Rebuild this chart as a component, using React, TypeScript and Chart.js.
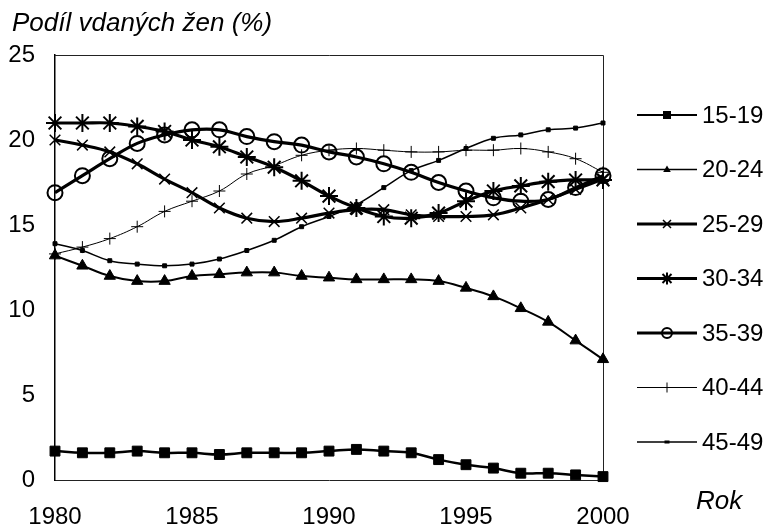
import React, { useEffect, useRef } from "react";
import { Chart, registerables } from "chart.js";

Chart.register(...registerables);

// ---- data ----
const years = [
  "1980", "1981", "1982", "1983", "1984", "1985", "1986", "1987", "1988", "1989", "1990",
  "1991", "1992", "1993", "1994", "1995", "1996", "1997", "1998", "1999", "2000",
];
const xTickYears = ["1980", "1985", "1990", "1995", "2000"];
const yMin = 0;
const yMax = 25;
const yStep = 5;

const seriesNames = ["15-19", "20-24", "25-29", "30-34", "35-39", "40-44", "45-49"];

const age15_19 = [1.7, 1.6, 1.6, 1.7, 1.6, 1.6, 1.5, 1.6, 1.6, 1.6, 1.7, 1.8, 1.7, 1.6, 1.2, 0.9, 0.7, 0.4, 0.4, 0.3, 0.2];
const age20_24 = [13.2, 12.6, 12.0, 11.7, 11.7, 12.0, 12.1, 12.2, 12.2, 12.0, 11.9, 11.8, 11.8, 11.8, 11.7, 11.3, 10.8, 10.1, 9.3, 8.2, 7.1];
const age25_29 = [20.0, 19.7, 19.3, 18.6, 17.7, 16.9, 16.0, 15.4, 15.2, 15.4, 15.7, 15.9, 15.9, 15.6, 15.5, 15.5, 15.6, 16.0, 16.5, 17.1, 17.7];
const age30_34 = [21.0, 21.0, 21.0, 20.8, 20.5, 20.0, 19.6, 19.0, 18.4, 17.6, 16.7, 16.0, 15.5, 15.4, 15.7, 16.4, 17.0, 17.3, 17.55, 17.65, 17.65];
const age35_39 = [16.9, 17.9, 18.9, 19.8, 20.3, 20.6, 20.6, 20.2, 19.9, 19.7, 19.3, 19.0, 18.6, 18.1, 17.5, 17.0, 16.6, 16.4, 16.5, 17.2, 17.9];
const age40_44 = [13.3, 13.7, 14.2, 14.9, 15.8, 16.4, 17.0, 18.0, 18.5, 19.1, 19.4, 19.5, 19.4, 19.3, 19.3, 19.4, 19.4, 19.5, 19.3, 18.9, 18.1];
const age45_49 = [13.9, 13.5, 12.9, 12.7, 12.6, 12.7, 13.0, 13.5, 14.1, 14.9, 15.5, 16.2, 17.2, 18.2, 18.8, 19.5, 20.1, 20.3, 20.6, 20.7, 21.0];

const seriesValues = [age15_19, age20_24, age25_29, age30_34, age35_39, age40_44, age45_49];

const yAxisTitle = "Podíl vdaných žen (%)";
const xAxisTitle = "Rok";

// ---- styles ----
const FONT = '"Liberation Sans", Arial, Helvetica, sans-serif';

type SStyle = {
  point: string;
  radius: number;
  line: number;
  pbw: number;
  filled: boolean;
  lgRadius: number;
  lgLine: number;
};

const styles: SStyle[] = [
  { point: "rect", radius: 7, line: 2.5, pbw: 1, filled: true, lgRadius: 4, lgLine: 2 },
  { point: "triangle", radius: 6.5, line: 2, pbw: 1, filled: true, lgRadius: 4, lgLine: 1.5 },
  { point: "crossRot", radius: 7.5, line: 3.2, pbw: 1.5, filled: false, lgRadius: 5, lgLine: 3 },
  { point: "star", radius: 9, line: 3.2, pbw: 2, filled: false, lgRadius: 6, lgLine: 3 },
  { point: "circle", radius: 7.5, line: 3.2, pbw: 2, filled: false, lgRadius: 5, lgLine: 3 },
  { point: "cross", radius: 6, line: 1, pbw: 1, filled: false, lgRadius: 5, lgLine: 1 },
  { point: "rect", radius: 2.8, line: 1.5, pbw: 1, filled: true, lgRadius: 2.5, lgLine: 1.5 },
];

function drawMarker(ctx: CanvasRenderingContext2D, s: SStyle, x: number, y: number) {
  const r = s.lgRadius;
  ctx.save();
  ctx.fillStyle = "#000";
  ctx.strokeStyle = "#000";
  ctx.lineWidth = s.pbw;
  ctx.beginPath();
  switch (s.point) {
    case "rect": {
      if (r < 3) {
        ctx.fillRect(x - r, y - r * 0.6, 2 * r, 1.2 * r);
      } else {
        ctx.fillRect(x - r, y - r, 2 * r, 2 * r);
      }
      break;
    }
    case "triangle": {
      ctx.moveTo(x, y - r);
      ctx.lineTo(x + r * 0.95, y + r * 0.6);
      ctx.lineTo(x - r * 0.95, y + r * 0.6);
      ctx.closePath();
      ctx.fill();
      break;
    }
    case "crossRot": {
      const d = r * 0.8;
      ctx.moveTo(x - d, y - d);
      ctx.lineTo(x + d, y + d);
      ctx.moveTo(x + d, y - d);
      ctx.lineTo(x - d, y + d);
      ctx.stroke();
      break;
    }
    case "star": {
      const d = r * 0.75;
      ctx.moveTo(x, y - r);
      ctx.lineTo(x, y + r);
      ctx.moveTo(x - d, y - d);
      ctx.lineTo(x + d, y + d);
      ctx.moveTo(x + d, y - d);
      ctx.lineTo(x - d, y + d);
      ctx.stroke();
      break;
    }
    case "circle": {
      ctx.fillStyle = "#fff";
      ctx.arc(x, y, r, 0, Math.PI * 2);
      ctx.fill();
      ctx.stroke();
      ctx.beginPath();
      ctx.lineWidth = s.lgLine;
      ctx.moveTo(x - r, y);
      ctx.lineTo(x + r, y);
      ctx.stroke();
      break;
    }
    case "cross": {
      ctx.moveTo(x, y - r);
      ctx.lineTo(x, y + r);
      ctx.stroke();
      break;
    }
  }
  ctx.restore();
}

const decorPlugin = {
  id: "decor",
  beforeDatasetsDraw(chart: any) {
    const { ctx, chartArea } = chart;
    ctx.save();
    ctx.strokeStyle = "#222";
    ctx.lineWidth = 1;
    ctx.beginPath();
    ctx.moveTo(chartArea.left, chartArea.top + 0.5);
    ctx.lineTo(chartArea.right + 0.5, chartArea.top + 0.5);
    ctx.lineTo(chartArea.right + 0.5, chartArea.bottom);
    ctx.stroke();
    ctx.restore();
  },
  afterDraw(chart: any) {
    const { ctx } = chart;
    ctx.save();
    ctx.fillStyle = "#000";
    ctx.font = `italic 26px ${FONT}`;
    ctx.textBaseline = "alphabetic";
    ctx.textAlign = "left";
    ctx.fillText(yAxisTitle, 12, 31);
    ctx.fillText(xAxisTitle, 696, 509);

    // legend
    ctx.font = `24px ${FONT}`;
    ctx.textBaseline = "middle";
    seriesNames.forEach((name, i) => {
      const s = styles[i];
      const y = 115 + i * 54.5;
      ctx.strokeStyle = "#000";
      ctx.lineWidth = s.lgLine;
      ctx.beginPath();
      ctx.moveTo(637, y);
      ctx.lineTo(697, y);
      ctx.stroke();
      drawMarker(ctx, s, 667, y);
      ctx.fillStyle = "#000";
      ctx.fillText(name, 702, y + 1);
    });
    ctx.restore();
  },
};

export default function App() {
  const ref = useRef<HTMLCanvasElement | null>(null);

  useEffect(() => {
    if (!ref.current) return;
    const datasets = seriesNames.map((name, i) => {
      const s = styles[i];
      return {
        label: name,
        data: seriesValues[i],
        borderColor: "#000",
        backgroundColor: "#000",
        borderWidth: s.line,
        tension: 0.4,
        pointStyle: s.point as any,
        pointRadius: s.radius,
        pointBorderWidth: s.pbw,
        pointBorderColor: "#000",
        pointBackgroundColor: s.filled ? "#000" : "rgba(0,0,0,0)",
        clip: false as any,
        fill: false,
      };
    });

    const chart = new Chart(ref.current, {
      type: "line",
      data: { labels: years, datasets: datasets as any },
      plugins: [decorPlugin],
      options: {
        animation: false,
        responsive: false,
        maintainAspectRatio: false,
        layout: { padding: { left: 0, top: 55, right: 167, bottom: 0 } },
        plugins: {
          legend: { display: false },
          tooltip: { enabled: false },
          title: { display: false },
        },
        scales: {
          x: {
            type: "category",
            offset: false,
            grid: { display: false, drawTicks: false },
            border: { display: true, color: "#222", width: 1 },
            ticks: {
              autoSkip: false,
              maxRotation: 0,
              padding: 23,
              color: "#000",
              font: { family: FONT, size: 24 },
              callback: function (this: any, value: any) {
                const lab = this.getLabelForValue(value);
                return xTickYears.includes(lab) ? lab : "";
              },
            },
            afterFit: (s: any) => {
              s.height = 50;
            },
          },
          y: {
            min: yMin,
            max: yMax,
            grid: { display: false, drawTicks: false },
            border: { display: true, color: "#000", width: 1.5 },
            ticks: {
              stepSize: yStep,
              padding: 20,
              color: "#000",
              font: { family: FONT, size: 24 },
            },
            afterFit: (s: any) => {
              s.width = 55;
            },
          },
        },
      },
    });
    return () => chart.destroy();
  }, []);

  return (
    <div style={{ position: "fixed", left: 0, top: 0, width: 770, height: 530, background: "#fff" }}>
      <canvas ref={ref} width={770} height={530} style={{ display: "block", width: 770, height: 530 }} />
    </div>
  );
}
